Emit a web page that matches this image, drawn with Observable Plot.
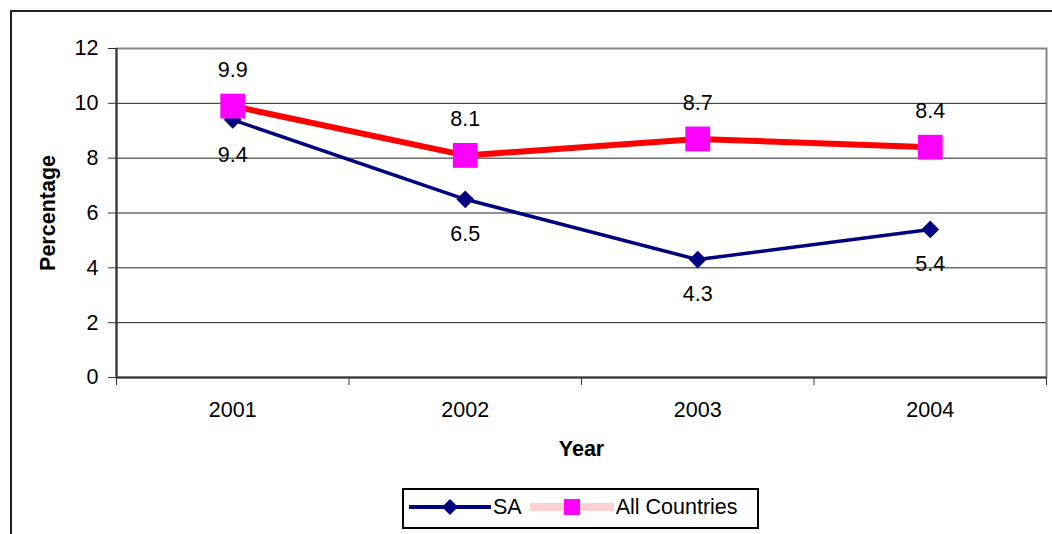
<!DOCTYPE html>
<html>
<head>
<meta charset="utf-8">
<script src="https://cdn.jsdelivr.net/npm/d3@7"></script>
<script src="https://cdn.jsdelivr.net/npm/@observablehq/plot@0.6"></script>
<style>
  html, body { margin: 0; padding: 0; background: #fff; overflow: hidden; width: 1052px; height: 534px; }
  #wrap { position: relative; width: 1052px; height: 534px; font-family: "Liberation Sans", Arial, sans-serif; }
  #frame { position: absolute; left: 10px; top: 10px; width: 1100px; height: 600px; border: 2px solid #222; box-sizing: border-box; pointer-events: none; }
  #chart { position: absolute; left: 0; top: 0; }
  #chart svg { font-family: "Liberation Sans", Arial, sans-serif; }
  [aria-label="y-axis label"], [aria-label="x-axis label"] { font-weight: bold; }
  #legend { position: absolute; left: 402px; top: 488px; width: 357px; height: 41px; border: 2px solid #000; box-sizing: border-box; background: #fff;
            display: flex; align-items: center; font-size: 21.5px; color: #000; padding-bottom: 3px; }
  #legend .item { display: flex; align-items: center; }
  #legend svg { display: block; }
</style>
</head>
<body>
<div id="wrap">
  <div id="chart"></div>
  <div id="frame"></div>
  <div id="legend"></div>
</div>
<script>
const years = [2001, 2002, 2003, 2004];
const saValues = [9.4, 6.5, 4.3, 5.4];
const allValues = [9.9, 8.1, 8.7, 8.4];
const seriesNames = ["SA", "All Countries"];
const yTicks = [0, 2, 4, 6, 8, 10, 12];
const gridValues = [2, 4, 6, 8, 10];

const sa = years.map((y, i) => ({year: y, value: saValues[i]}));
const all = years.map((y, i) => ({year: y, value: allValues[i]}));
const boundaries = [years[0] - 0.5, ...years.map(y => y + 0.5)];

const navy = "#000080";
const red = "#ff0000";
const magenta = "#ff00ff";

const chart = Plot.plot({
  width: 1052,
  height: 534,
  marginLeft: 116,
  marginRight: 6,
  marginTop: 48,
  marginBottom: 157,
  style: {fontSize: "21.5px", fontFamily: "Liberation Sans, Arial, sans-serif", color: "#000", background: "transparent"},
  x: {type: "linear", domain: [years[0] - 0.5, years[years.length - 1] + 0.5]},
  y: {domain: [0, 12]},
  marks: [
    Plot.frame({stroke: "#888", strokeWidth: 2}),
    Plot.ruleY(gridValues, {stroke: "#222", strokeWidth: 1}),
    Plot.ruleY([0], {stroke: "#333", strokeWidth: 2}),
    Plot.ruleX([boundaries[0]], {stroke: "#333", strokeWidth: 2}),
    Plot.axisY({ticks: yTicks, tickSize: 8, tickPadding: 10, stroke: "#333", label: "Percentage", labelArrow: "none", labelAnchor: "center", labelOffset: 77, fontSize: 21.5}),
    Plot.axisX({ticks: years, tickSize: 0, tickPadding: 24, tickFormat: d => String(d), label: "Year", labelArrow: "none", labelAnchor: "center", labelOffset: 78, fontSize: 21.5}),
    Plot.axisX({ticks: boundaries, tickSize: 8, tickFormat: () => "", stroke: "#333", label: null}),
    Plot.line(all, {x: "year", y: "value", stroke: red, strokeWidth: 6}),
    Plot.line(sa, {x: "year", y: "value", stroke: navy, strokeWidth: 3.5}),
    Plot.dot(sa, {x: "year", y: "value", symbol: "diamond2", r: 8, fill: navy, stroke: "none"}),
    Plot.dot(all, {x: "year", y: "value", symbol: "square", r: 14, fill: magenta, stroke: "none"}),
    Plot.text(all, {x: "year", y: "value", text: d => d.value.toFixed(1), dy: -36, fontSize: 21.5, fill: "#000"}),
    Plot.text(sa, {x: "year", y: "value", text: d => d.value.toFixed(1), dy: 35, fontSize: 21.5, fill: "#000"})
  ]
});
document.getElementById("chart").appendChild(chart);

// Legend
const legend = document.getElementById("legend");
legend.innerHTML = `
  <div class="item" style="margin-left:5px">
    <svg width="82" height="20"><line x1="1" y1="10" x2="81" y2="10" stroke="${navy}" stroke-width="4" stroke-linecap="round"/>
      <path d="M41,2 L49,10 L41,18 L33,10 Z" fill="${navy}"/></svg>
    <span style="margin-left:2px">${seriesNames[0]}</span>
  </div>
  <div class="item" style="margin-left:8px">
    <svg width="84" height="20"><rect x="0" y="6" width="84" height="8" fill="#ffd0d0"/>
      <rect x="34" y="2" width="16" height="16" fill="${magenta}"/></svg>
    <span style="margin-left:2px">${seriesNames[1]}</span>
  </div>`;
</script>
</body>
</html>
